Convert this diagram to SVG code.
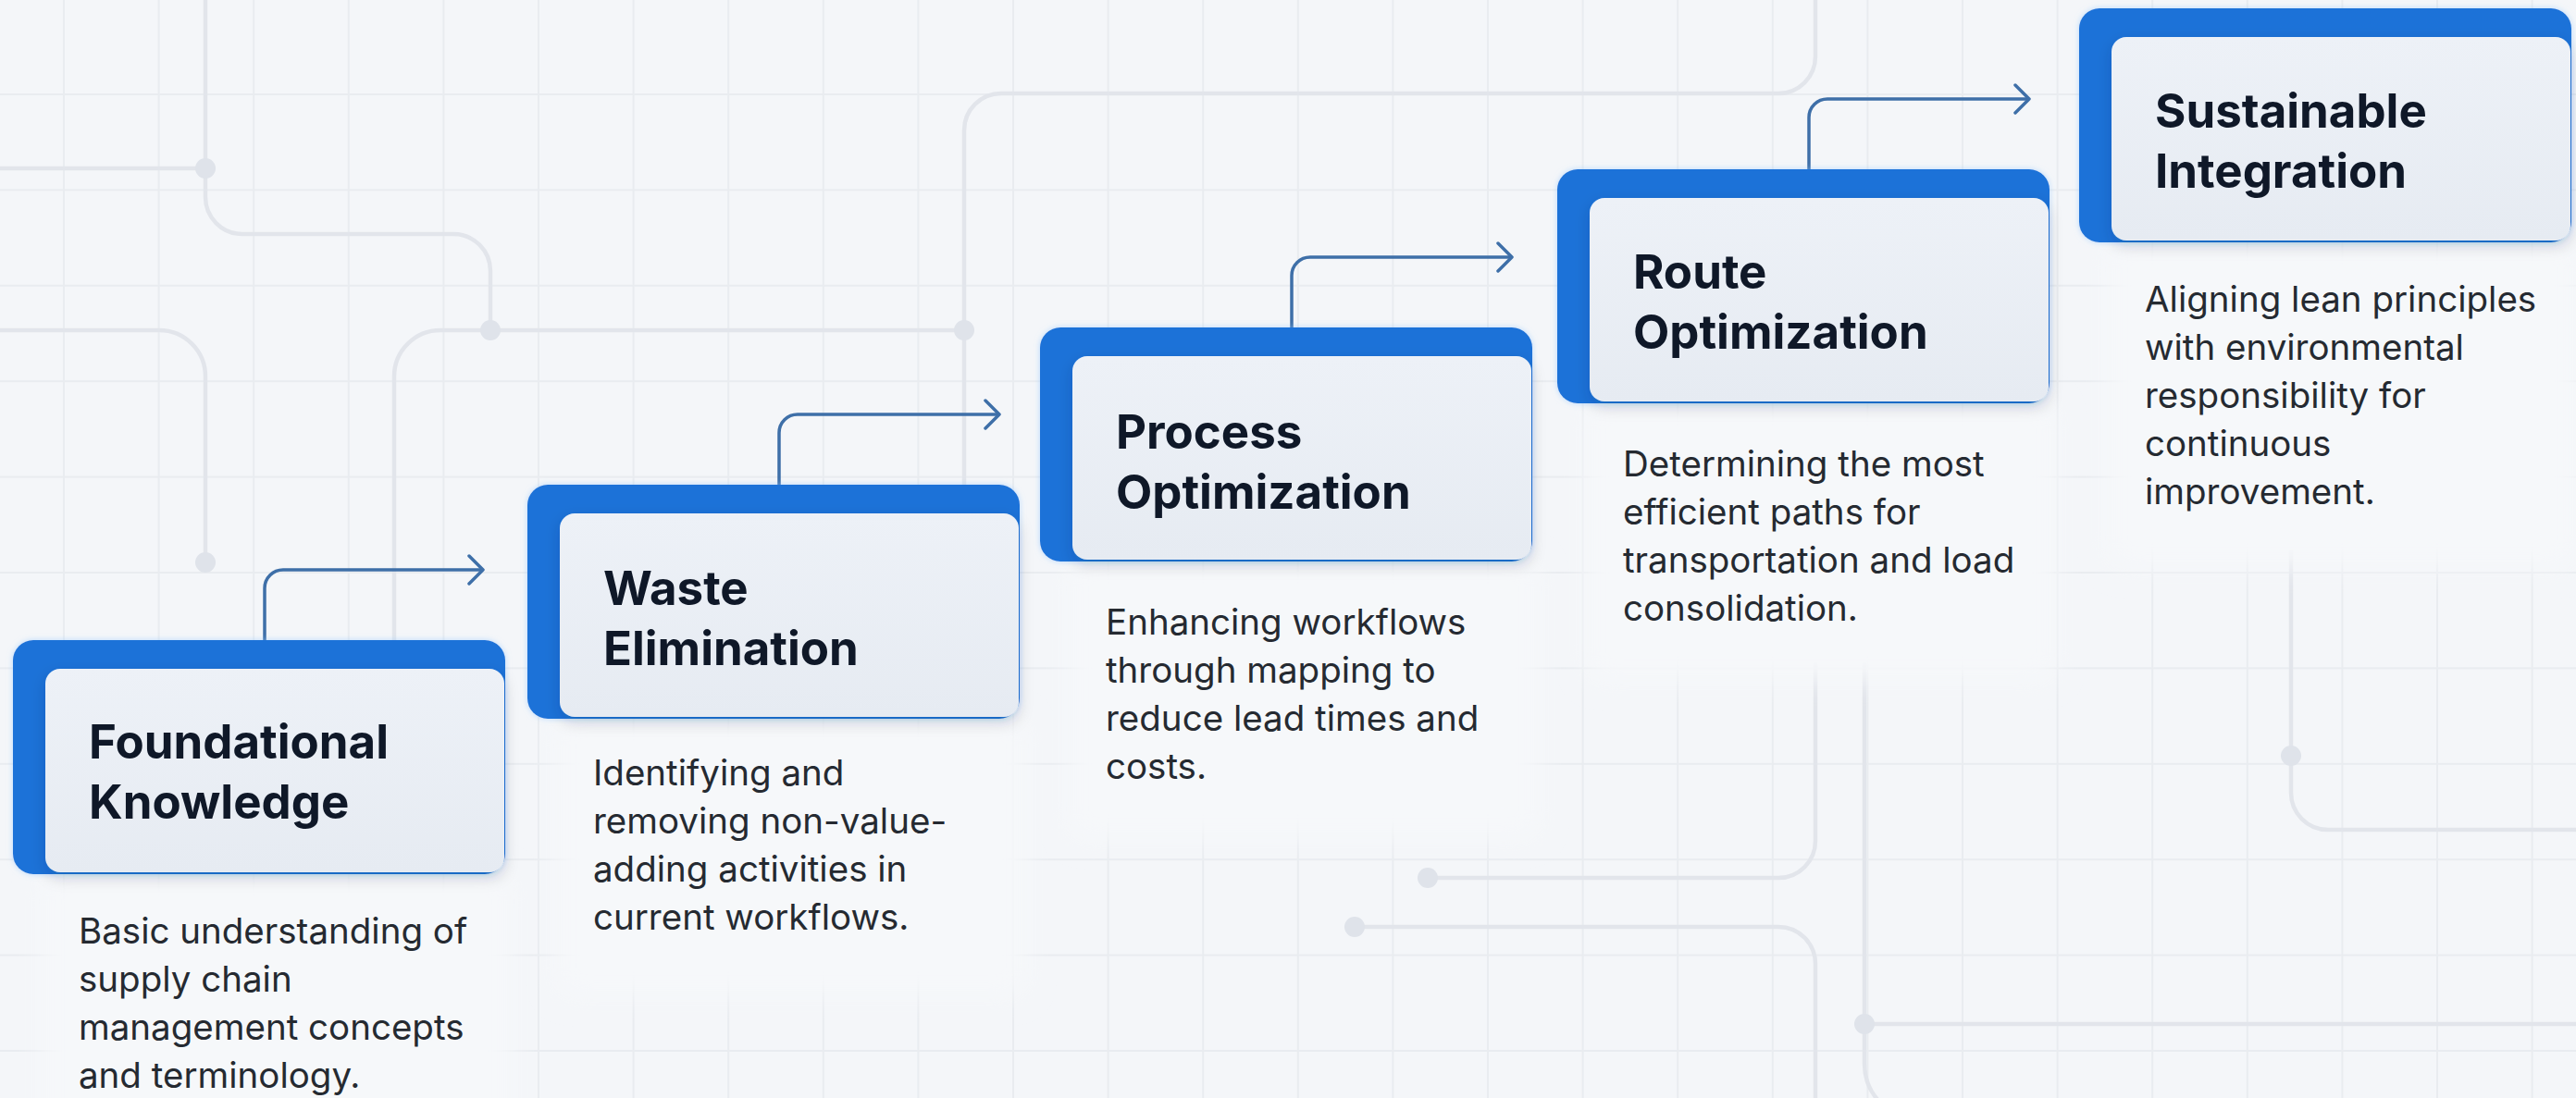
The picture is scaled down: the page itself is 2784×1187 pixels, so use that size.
<svg xmlns="http://www.w3.org/2000/svg" width="2784" height="1187" viewBox="0 0 2784 1187">
<defs>
<style>
.title{font-family:Inter,'Liberation Sans',sans-serif;font-weight:700;font-size:51px;fill:#0f1828}
.desc{font-family:Inter,'Liberation Sans',sans-serif;font-weight:400;font-size:38.5px;fill:#252a31}
.blue{fill:#1d72d8;filter:url(#glow)}
.card{fill:url(#cardGrad);filter:url(#shadow)}
.trace{fill:none;stroke:#e2e5eb;stroke-width:4.5;stroke-linecap:round}
.dot{fill:#dfe3ea}
.conn{fill:none;stroke:#3e6fa8;stroke-width:3.5;marker-end:url(#chev)}
.halo{fill:#f6f8fa;filter:url(#soft)}
</style>
<pattern id="grid" patternUnits="userSpaceOnUse" x="68" y="101" width="102.6" height="103.4">
<path d="M1,0 V103.4 M0,1 H102.6" stroke="#e9ecf0" stroke-width="2" fill="none"/>
</pattern>
<linearGradient id="cardGrad" x1="0" y1="0" x2="0" y2="1">
<stop offset="0" stop-color="#edf1f7"/>
<stop offset="1" stop-color="#e6ebf2"/>
</linearGradient>
<filter id="shadow" x="-10%" y="-10%" width="120%" height="130%">
<feDropShadow dx="0" dy="6" stdDeviation="8" flood-color="#1c2a44" flood-opacity="0.16"/>
</filter>
<filter id="glow" x="-10%" y="-10%" width="120%" height="130%">
<feDropShadow dx="0" dy="0" stdDeviation="3" flood-color="#8cc4ff" flood-opacity="0.6"/>
</filter>
<filter id="soft" x="-20%" y="-20%" width="140%" height="140%">
<feGaussianBlur stdDeviation="14"/>
</filter>
<marker id="chev" viewBox="0 0 20 34" refX="17" refY="17" markerWidth="20" markerHeight="34" markerUnits="userSpaceOnUse" orient="auto">
<path d="M2,2 L17,17 L2,32" fill="none" stroke="#3e6fa8" stroke-width="3.5" stroke-linecap="round" stroke-linejoin="round"/>
</marker>
</defs>

<rect width="2784" height="1187" fill="#f4f6f9"/>
<rect width="2784" height="1187" fill="url(#grid)"/>

<g id="background-traces">
<path class="trace" d="M0,182 H222 M222,0 V213 A40,40 0 0 0 262,253 H490 A40,40 0 0 1 530,293 V357"/>
<path class="trace" d="M530,357 H1042 M530,357 H476 A50,50 0 0 0 426,407 V692"/>
<path class="trace" d="M1042,524 V141 A40,40 0 0 1 1082,101 H1922 A40,40 0 0 0 1962,61 V0"/>
<path class="trace" d="M0,357 H172 A50,50 0 0 1 222,407 V608"/>
<path class="trace" d="M1543,949 H1922 A40,40 0 0 0 1962,909 V718"/>
<path class="trace" d="M1464,1002 H1922 A40,40 0 0 1 1962,1042 V1187"/>
<path class="trace" d="M2015,718 V1150 A60,60 0 0 0 2075,1210 M2015,1107 H2784"/>
<path class="trace" d="M2476,596 V857 A40,40 0 0 0 2516,897 H2784"/>
<circle class="dot" cx="222" cy="182" r="11"/>
<circle class="dot" cx="530" cy="357" r="11"/>
<circle class="dot" cx="1042" cy="357" r="11"/>
<circle class="dot" cx="222" cy="608" r="11"/>
<circle class="dot" cx="1543" cy="949" r="11"/>
<circle class="dot" cx="1464" cy="1002" r="11"/>
<circle class="dot" cx="2015" cy="1107" r="11"/>
<circle class="dot" cx="2476" cy="817" r="11"/>
</g>

<g id="halos">
<rect class="halo" x="44" y="942" width="510" height="303" rx="20"/>
<rect class="halo" x="600" y="774" width="510" height="303" rx="20"/>
<rect class="halo" x="1154" y="604" width="510" height="303" rx="20"/>
<rect class="halo" x="1713" y="433" width="510" height="303" rx="20"/>
<rect class="halo" x="2277" y="259" width="510" height="355" rx="20"/>
</g>

<g id="connectors">
<path class="conn" d="M286,692 V636 A20,20 0 0 1 306,616 H522"/>
<path class="conn" d="M842,524 V468 A20,20 0 0 1 862,448 H1080"/>
<path class="conn" d="M1396,354 V298 A20,20 0 0 1 1416,278 H1634"/>
<path class="conn" d="M1955,183 V127 A20,20 0 0 1 1975,107 H2193"/>
</g>

<g id="node-foundational-knowledge">
<rect class="blue" x="14" y="692" width="532" height="253" rx="22"/>
<rect class="card" x="49" y="723" width="496" height="220" rx="16"/>
<text class="title" x="96" y="820">Foundational</text>
<text class="title" x="96" y="885">Knowledge</text>
<text class="desc" x="85" y="1020">Basic understanding of</text>
<text class="desc" x="85" y="1072">supply chain</text>
<text class="desc" x="85" y="1124">management concepts</text>
<text class="desc" x="85" y="1176">and terminology.</text>
</g>

<g id="node-waste-elimination">
<rect class="blue" x="570" y="524" width="532" height="253" rx="22"/>
<rect class="card" x="605" y="555" width="496" height="220" rx="16"/>
<text class="title" x="652" y="654">Waste</text>
<text class="title" x="652" y="719">Elimination</text>
<text class="desc" x="641" y="849">Identifying and</text>
<text class="desc" x="641" y="901">removing non-value-</text>
<text class="desc" x="641" y="953">adding activities in</text>
<text class="desc" x="641" y="1005">current workflows.</text>
</g>

<g id="node-process-optimization">
<rect class="blue" x="1124" y="354" width="532" height="253" rx="22"/>
<rect class="card" x="1159" y="385" width="496" height="220" rx="16"/>
<text class="title" x="1206" y="485">Process</text>
<text class="title" x="1206" y="550">Optimization</text>
<text class="desc" x="1195" y="686">Enhancing workflows</text>
<text class="desc" x="1195" y="738">through mapping to</text>
<text class="desc" x="1195" y="790">reduce lead times and</text>
<text class="desc" x="1195" y="842">costs.</text>
</g>

<g id="node-route-optimization">
<rect class="blue" x="1683" y="183" width="532" height="253" rx="22"/>
<rect class="card" x="1718" y="214" width="496" height="220" rx="16"/>
<text class="title" x="1765" y="312">Route</text>
<text class="title" x="1765" y="377">Optimization</text>
<text class="desc" x="1754" y="515">Determining the most</text>
<text class="desc" x="1754" y="567">efficient paths for</text>
<text class="desc" x="1754" y="619">transportation and load</text>
<text class="desc" x="1754" y="671">consolidation.</text>
</g>

<g id="node-sustainable-integration">
<rect class="blue" x="2247" y="9" width="532" height="253" rx="22"/>
<rect class="card" x="2282" y="40" width="496" height="220" rx="16"/>
<text class="title" x="2329" y="138">Sustainable</text>
<text class="title" x="2329" y="203">Integration</text>
<text class="desc" x="2318" y="337">Aligning lean principles</text>
<text class="desc" x="2318" y="389">with environmental</text>
<text class="desc" x="2318" y="441">responsibility for</text>
<text class="desc" x="2318" y="493">continuous</text>
<text class="desc" x="2318" y="545">improvement.</text>
</g>
</svg>
